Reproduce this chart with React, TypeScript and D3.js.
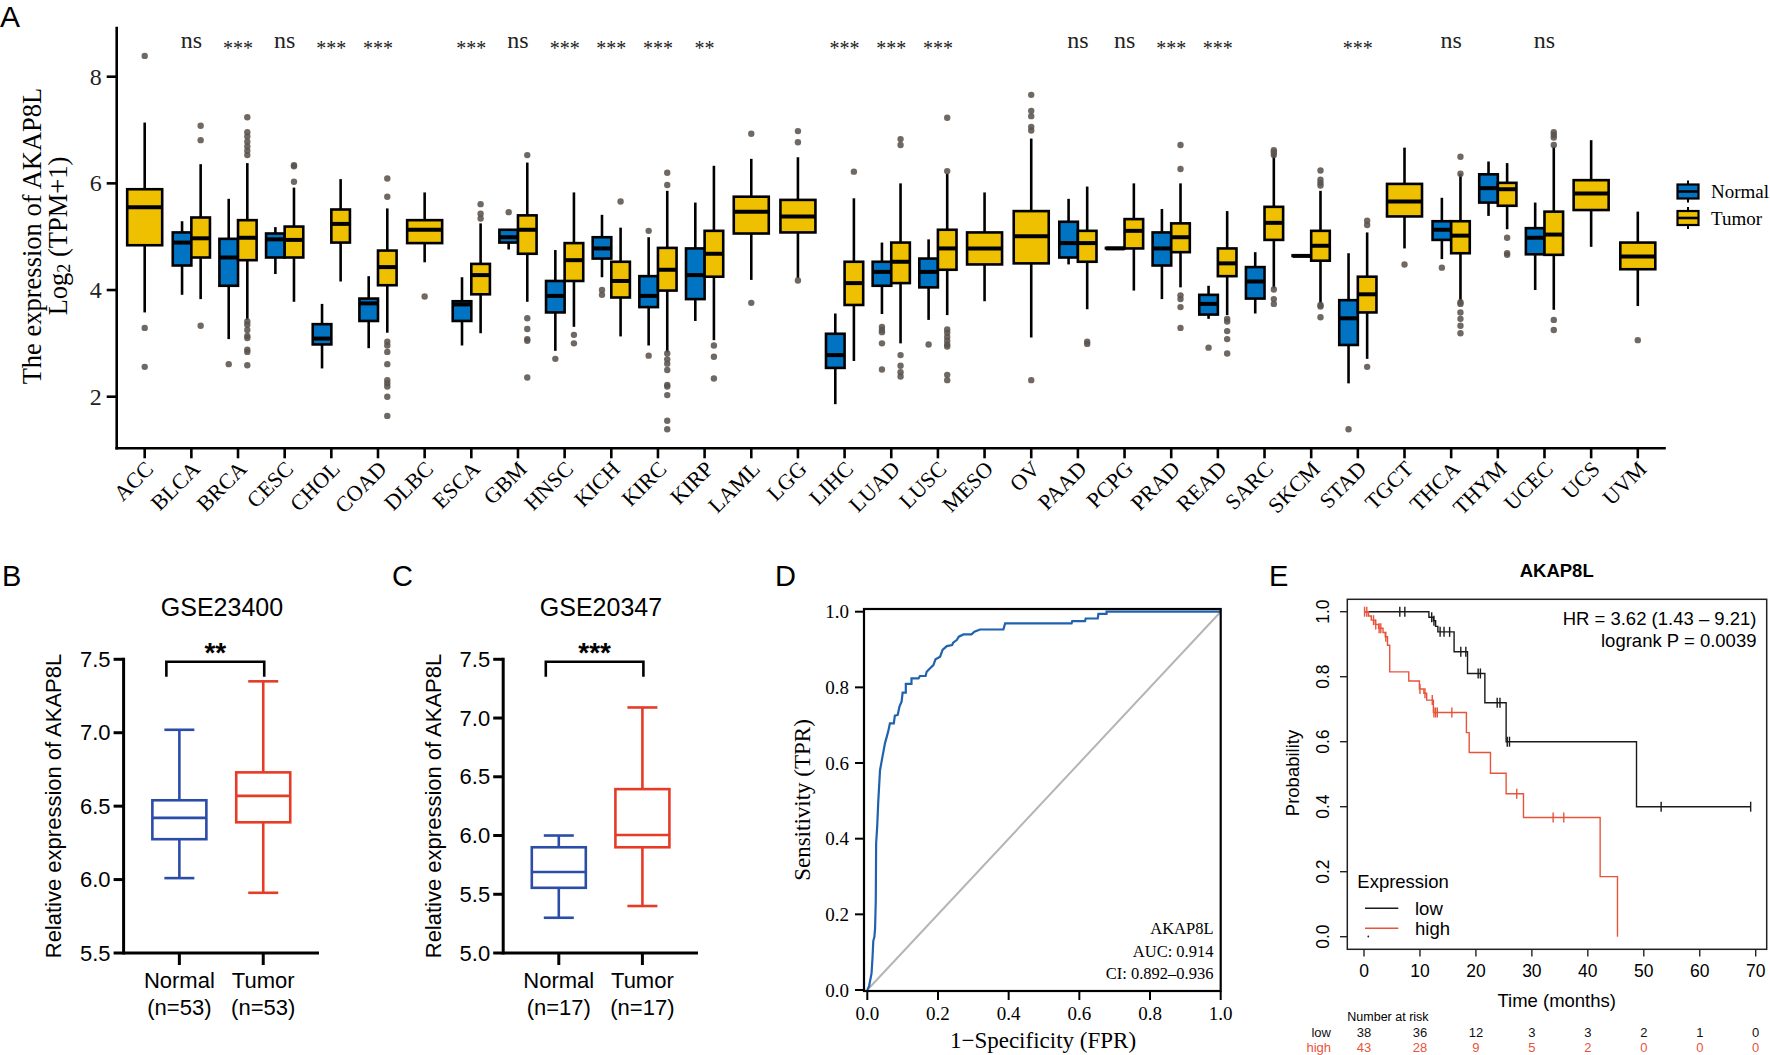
import React from "react";
import * as d3 from "d3";

// ---------------- Panel A data ----------------
const cancerTypes = ["ACC","BLCA","BRCA","CESC","CHOL","COAD","DLBC","ESCA","GBM","HNSC","KICH","KIRC","KIRP","LAML","LGG","LIHC","LUAD","LUSC","MESO","OV","PAAD","PCPG","PRAD","READ","SARC","SKCM","STAD","TGCT","THCA","THYM","UCEC","UCS","UVM"];
const significance = ["","ns","***","ns","***","***","","***","ns","***","***","***","**","","","***","***","***","","","ns","ns","***","***","","","***","","ns","","ns","",""];
// [whiskerLow, q1, median, q3, whiskerHigh]
const normalStats: (number[] | null)[] = [
  null,
  [3.91,4.46,4.89,5.08,5.29],
  [3.08,4.08,4.61,4.96,5.71],
  [4.30,4.61,4.95,5.06,5.18],
  [2.53,2.98,3.09,3.36,3.74],
  [2.91,3.42,3.75,3.84,4.26],
  null,
  [2.96,3.42,3.73,3.79,4.24],
  [4.76,4.89,4.99,5.13,5.13],
  [2.86,3.58,3.89,4.17,4.75],
  [4.24,4.59,4.78,4.99,5.41],
  [2.96,3.68,3.89,4.26,4.99],
  [3.42,3.83,4.28,4.78,5.64],
  null,
  null,
  [1.86,2.54,2.78,3.18,3.56],
  [3.55,4.08,4.34,4.53,4.89],
  [3.44,4.05,4.34,4.59,4.95],
  null,
  null,
  [4.48,4.61,4.88,5.28,5.71],
  [4.78,4.78,4.78,4.79,4.79],
  [3.83,4.46,4.78,5.08,5.52],
  [3.46,3.54,3.74,3.91,4.08],
  [3.56,3.84,4.16,4.43,4.71],
  [4.64,4.64,4.64,4.65,4.65],
  [2.25,2.97,3.47,3.81,4.69],
  null,
  [4.58,4.94,5.13,5.29,5.73],
  [5.39,5.64,5.91,6.17,6.41],
  [4.00,4.67,4.98,5.16,5.64],
  null,
  null,
];
const normalOutliers: number[][] = [
  [],[],[2.61],[],[],[],[],[],[5.46],[2.71],[4.00,3.91],[5.11,2.77],[],[],[],[],
  [3.31,3.25,3.21,3.00,2.51],[2.98],[],[],[],[],[],[2.92],[],[],[1.39],[],[4.42],[],[],[],[],
];
const tumorStats: number[][] = [
  [3.58,4.84,5.55,5.89,7.14],
  [3.83,4.61,4.97,5.36,6.36],
  [3.44,4.56,4.98,5.31,6.38],
  [3.78,4.61,4.94,5.19,5.92],
  [4.16,4.89,5.24,5.51,6.08],
  [3.20,4.09,4.43,4.74,5.53],
  [4.52,4.88,5.13,5.31,5.83],
  [3.19,3.92,4.28,4.49,5.25],
  [3.78,4.68,5.13,5.40,6.39],
  [3.31,4.17,4.56,4.88,5.83],
  [3.13,3.86,4.17,4.53,5.17],
  [2.83,3.99,4.38,4.79,5.86],
  [3.06,4.25,4.68,5.11,6.33],
  [4.19,5.06,5.47,5.75,6.46],
  [4.22,5.08,5.38,5.69,6.49],
  [2.67,3.72,4.13,4.53,5.72],
  [3.00,4.13,4.53,4.89,6.00],
  [3.53,4.38,4.78,5.13,6.18],
  [3.79,4.48,4.78,5.08,5.83],
  [3.11,4.50,5.01,5.48,6.84],
  [3.64,4.53,4.88,5.11,5.94],
  [3.99,4.78,5.11,5.33,6.00],
  [4.05,4.71,4.99,5.25,6.00],
  [3.53,4.26,4.50,4.78,5.48],
  [4.03,4.94,5.26,5.56,6.55],
  [3.74,4.55,4.83,5.11,5.86],
  [2.71,3.58,3.92,4.25,5.08],
  [4.78,5.38,5.66,5.99,6.67],
  [3.79,4.69,5.02,5.29,6.18],
  [5.14,5.58,5.89,6.01,6.38],
  [3.63,4.66,5.04,5.47,6.69],
  [4.81,5.50,5.81,6.06,6.81],
  [3.70,4.39,4.63,4.89,5.47],
];
const tumorOutliers: number[][] = [
  [8.39,3.29,2.56],
  [7.08,6.81,3.33],
  [7.24,6.96,6.88,6.78,6.69,6.61,6.53,3.41,3.35,3.25,3.14,3.10,2.88,2.84,2.59],
  [6.34,6.32,6.03],
  [],
  [6.09,5.75,3.03,2.96,2.84,2.61,2.31,2.25,2.19,2.00,1.64],
  [3.88],
  [5.61,5.43,5.34],
  [6.53,3.47,3.27,3.08,3.05,2.36],
  [3.16,3.00],
  [5.66],
  [6.20,5.97,2.81,2.70,2.62,2.50,2.22,2.19,2.03,1.55,1.39],
  [2.96,2.75,2.34],
  [6.93,3.76],
  [6.98,6.77,4.18],
  [6.22],
  [6.83,6.72,2.78,2.58,2.46,2.38],
  [7.23,6.23,3.26,3.20,3.12,3.05,2.98,2.94,2.41,2.31],
  [],
  [7.66,7.36,7.26,7.06,6.99,2.31],
  [3.03,2.99],
  [],
  [6.72,6.27,3.90,3.83,3.68,3.29],
  [3.46,3.41,3.23,3.08,2.81],
  [6.62,6.58,6.53,4.01,3.83,3.74],
  [6.24,6.07,6.01,5.96,3.72,3.69,3.49],
  [5.30,5.22,2.56],
  [4.48],
  [6.50,6.18,3.77,3.74,3.58,3.46,3.33,3.19],
  [4.98,4.69,4.66],
  [6.96,6.91,6.86,6.72,3.44,3.25],
  [],
  [3.06],
];
const panelATicks = [2, 4, 6, 8];
const groupLabels = ["Normal", "Tumor"];

// ---------------- Panels B, C data ----------------
const gse23400Stats = [[6.01,6.275,6.42,6.54,7.02],[5.91,6.39,6.57,6.73,7.35]];
const gse23400Counts = ["(n=53)","(n=53)"];
const gse23400Ticks = [5.5,6.0,6.5,7.0,7.5];
const gse20347Stats = [[5.30,5.555,5.69,5.90,6.00],[5.40,5.90,6.005,6.395,7.09]];
const gse20347Counts = ["(n=17)","(n=17)"];
const gse20347Ticks = [5.0,5.5,6.0,6.5,7.0,7.5];

// ---------------- Panel D data ----------------
const rocPoints: [number, number][] = [[0,0],[0.005,0.01],[0.012,0.044],[0.015,0.09],[0.017,0.13],[0.02,0.14],[0.022,0.163],[0.023,0.2],[0.024,0.238],[0.025,0.388],[0.028,0.432],[0.031,0.498],[0.036,0.581],[0.043,0.617],[0.05,0.652],[0.059,0.683],[0.064,0.705],[0.075,0.705],[0.078,0.725],[0.086,0.727],[0.091,0.749],[0.097,0.762],[0.1,0.786],[0.109,0.786],[0.109,0.809],[0.125,0.809],[0.125,0.824],[0.145,0.824],[0.149,0.83],[0.165,0.83],[0.168,0.841],[0.177,0.85],[0.187,0.859],[0.193,0.874],[0.206,0.881],[0.213,0.899],[0.225,0.909],[0.24,0.912],[0.243,0.918],[0.253,0.925],[0.259,0.934],[0.272,0.94],[0.295,0.94],[0.303,0.947],[0.319,0.953],[0.385,0.953],[0.39,0.969],[0.578,0.969],[0.58,0.975],[0.616,0.975],[0.618,0.982],[0.652,0.982],[0.654,0.994],[0.677,0.994],[0.677,1.0],[1.0,1.0]];
const rocTicks = [0,0.2,0.4,0.6,0.8,1.0];
const rocLabels = ["AKAP8L","AUC: 0.914","CI: 0.892\u20130.936"];

// ---------------- Panel E data ----------------
const kmLow: [number, number][] = [[0,1],[11.6,0.983],[12.4,0.972],[12.8,0.955],[13.2,0.938],[16.1,0.877],[18.5,0.81],[21.6,0.72],[25.4,0.6],[48.7,0.4],[69.1,0.4]];
const kmLowCensor = [6.4,7.3,12.1,12.5,13.6,14.3,15.3,17.3,18.2,20.4,20.8,23.8,24.3,25.6,26.0,53.1,69.1];
const kmHigh: [number, number][] = [[0,1],[0.8,0.987],[1.3,0.974],[2.0,0.961],[2.6,0.949],[3.4,0.936],[3.8,0.923],[4.2,0.897],[4.6,0.815],[8.0,0.787],[9.9,0.762],[10.7,0.749],[11.2,0.728],[12.4,0.69],[18.3,0.628],[18.8,0.567],[22.6,0.503],[25.4,0.44],[28.5,0.367],[42.2,0.185],[45.3,0.0]];
const kmHighCensor = [0.1,0.5,1.7,2.1,2.7,3.0,3.9,10.0,10.9,12.2,12.5,12.8,13.1,15.7,27.3,33.8,35.7];
const kmXTicks = [0,10,20,30,40,50,60,70];
const kmYTicks = [0,0.2,0.4,0.6,0.8,1.0];
const riskLow = [38,36,12,3,3,2,1,0];
const riskHigh = [43,28,9,5,2,0,0,0];
const kmGroups = ["low","high"];
const kmStatLines = ["HR = 3.62 (1.43 \u2013 9.21)", "logrank P = 0.0039"];

const BLUE_A = "#0073C2";
const YELLOW_A = "#EFC000";
const SERIF = "'Liberation Serif','Times New Roman',serif";
const SANS = "Arial,'Liberation Sans',sans-serif";

function TcgaBox({ x0, x1, s, outs, fill, y }: any) {
  const m = (x0 + x1) / 2;
  return (
    <g>
      <line x1={m} x2={m} y1={y(s[0])} y2={y(s[1])} stroke="#000" strokeWidth={2.6} />
      <line x1={m} x2={m} y1={y(s[3])} y2={y(s[4])} stroke="#000" strokeWidth={2.6} />
      <rect x={x0} y={y(s[3])} width={x1 - x0} height={Math.max(0.5, y(s[1]) - y(s[3]))} fill={fill} stroke="#000" strokeWidth={2.6} />
      <line x1={x0} x2={x1} y1={y(s[2])} y2={y(s[2])} stroke="#000" strokeWidth={4} />
      {outs.map((o: number, i: number) => (
        <circle key={i} cx={m} cy={y(o)} r={3.2} fill="#5b534d" fillOpacity={0.88} />
      ))}
    </g>
  );
}

function PanelA() {
  const left = 116.7, right = 1665.8, top = 26.7, bottom = 448.3;
  const x = d3.scalePoint<string>().domain(cancerTypes).range([left, right]).padding(0.6);
  const y = d3.scaleLinear().domain([2, 8]).range([396.7, 76.7]);
  const half = 18.6, single = 17.5;
  const legendColors = [BLUE_A, YELLOW_A];
  return (
    <g>
      <text x={0} y={27} fontFamily={SANS} fontSize={30}>A</text>
      {cancerTypes.map((c, i) => {
        const cx = x(c)!;
        const ns = normalStats[i];
        return (
          <g key={c}>
            {ns ? (
              <>
                <TcgaBox x0={cx - half} x1={cx} s={ns} outs={normalOutliers[i]} fill={BLUE_A} y={y} />
                <TcgaBox x0={cx} x1={cx + half} s={tumorStats[i]} outs={tumorOutliers[i]} fill={YELLOW_A} y={y} />
              </>
            ) : (
              <TcgaBox x0={cx - single} x1={cx + single} s={tumorStats[i]} outs={tumorOutliers[i]} fill={YELLOW_A} y={y} />
            )}
            {significance[i] && (
              <text x={cx} y={significance[i] === "ns" ? 48 : 55} textAnchor="middle" fontFamily={SERIF}
                fontSize={significance[i] === "ns" ? 24 : 20} fill="#222">{significance[i]}</text>
            )}
            <line x1={cx} x2={cx} y1={bottom} y2={bottom + 10} stroke="#000" strokeWidth={2.6} />
            <text transform={`translate(${cx + 10},${bottom + 22}) rotate(-45)`} textAnchor="end"
              fontFamily={SERIF} fontSize={22}>{c}</text>
          </g>
        );
      })}
      <line x1={left} x2={left} y1={top} y2={bottom + 1.3} stroke="#000" strokeWidth={2.6} />
      <line x1={left - 1.3} x2={right} y1={bottom} y2={bottom} stroke="#000" strokeWidth={2.6} />
      {panelATicks.map((t) => (
        <g key={t}>
          <line x1={left - 10} x2={left} y1={y(t)} y2={y(t)} stroke="#000" strokeWidth={2.6} />
          <text x={left - 15} y={y(t)} dominantBaseline="central" textAnchor="end" fontFamily={SERIF} fontSize={24} fill="#222">{t}</text>
        </g>
      ))}
      <text transform="translate(32,236) rotate(-90)" textAnchor="middle" dominantBaseline="central" fontFamily={SERIF} fontSize={26.5}>The expression of AKAP8L</text>
      <text transform="translate(58,236) rotate(-90)" textAnchor="middle" dominantBaseline="central" fontFamily={SERIF} fontSize={26.5}>
        Log<tspan fontSize={18} dy={6}>2</tspan><tspan dy={-6}> (TPM+1)</tspan>
      </text>
      {groupLabels.map((g, i) => {
        const cy = 191.5 + i * 26.5;
        return (
          <g key={g}>
            <line x1={1688} x2={1688} y1={cy - 11} y2={cy + 11} stroke="#000" strokeWidth={2} />
            <rect x={1677.5} y={cy - 7} width={21} height={14} fill={legendColors[i]} stroke="#000" strokeWidth={2.2} />
            <line x1={1677.5} x2={1698.5} y1={cy} y2={cy} stroke="#000" strokeWidth={2.6} />
            <text x={1711} y={cy} dominantBaseline="central" fontFamily={SERIF} fontSize={19}>{g}</text>
          </g>
        );
      })}
    </g>
  );
}

function GsePanel({ letter, letterX, title, axisX, axisRight, yTicks, stats, counts, stars, titleX }: any) {
  const top = 659.3, bottom = 953;
  const y = d3.scaleLinear().domain([yTicks[0], yTicks[yTicks.length - 1]]).range([bottom, top]);
  const x = d3.scalePoint<string>().domain(groupLabels).range([axisX, axisRight]).padding(0.665);
  const colors = ["#2B4DA8", "#E63B27"];
  const c0 = x(groupLabels[0])!, c1 = x(groupLabels[1])!;
  const bx0 = c0 - 13, bx1 = c1 + 1;
  return (
    <g>
      <text x={letterX} y={586} fontFamily={SANS} fontSize={29}>{letter}</text>
      <text x={titleX} y={615.5} textAnchor="middle" fontFamily={SANS} fontSize={25}>{title}</text>
      <path d={`M${bx0},676.7V661.7H${bx1}V676.7`} fill="none" stroke="#000" strokeWidth={2.6} />
      <text x={(bx0 + bx1) / 2} y={662} textAnchor="middle" fontFamily={SANS} fontWeight="bold" fontSize={28}>{stars}</text>
      {groupLabels.map((g, i) => {
        const cx = x(g)!;
        const s = stats[i];
        const col = colors[i];
        return (
          <g key={g}>
            <line x1={cx} x2={cx} y1={y(s[0])} y2={y(s[1])} stroke={col} strokeWidth={2.6} />
            <line x1={cx} x2={cx} y1={y(s[3])} y2={y(s[4])} stroke={col} strokeWidth={2.6} />
            <line x1={cx - 15} x2={cx + 15} y1={y(s[0])} y2={y(s[0])} stroke={col} strokeWidth={2.6} />
            <line x1={cx - 15} x2={cx + 15} y1={y(s[4])} y2={y(s[4])} stroke={col} strokeWidth={2.6} />
            <rect x={cx - 27} y={y(s[3])} width={54} height={y(s[1]) - y(s[3])} fill="none" stroke={col} strokeWidth={2.6} />
            <line x1={cx - 27} x2={cx + 27} y1={y(s[2])} y2={y(s[2])} stroke={col} strokeWidth={2.6} />
            <line x1={cx} x2={cx} y1={bottom} y2={bottom + 12} stroke="#000" strokeWidth={3} />
            <text x={cx} y={988} textAnchor="middle" fontFamily={SANS} fontSize={22}>{g}</text>
            <text x={cx} y={1015} textAnchor="middle" fontFamily={SANS} fontSize={22}>{counts[i]}</text>
          </g>
        );
      })}
      <line x1={axisX} x2={axisX} y1={top - 1.5} y2={bottom + 1.5} stroke="#000" strokeWidth={3} />
      <line x1={axisX} x2={axisRight} y1={bottom} y2={bottom} stroke="#000" strokeWidth={3} />
      {yTicks.map((t: number) => (
        <g key={t}>
          <line x1={axisX - 10} x2={axisX} y1={y(t)} y2={y(t)} stroke="#000" strokeWidth={3} />
          <text x={axisX - 13} y={y(t)} dominantBaseline="central" textAnchor="end" fontFamily={SANS} fontSize={22}>{t.toFixed(1)}</text>
        </g>
      ))}
      <text transform={`translate(${axisX - 70},806) rotate(-90)`} textAnchor="middle" dominantBaseline="central" fontFamily={SANS} fontSize={22}>Relative expression of AKAP8L</text>
    </g>
  );
}

function PanelD() {
  const x = d3.scaleLinear().domain([0, 1]).range([867.3, 1220.7]);
  const y = d3.scaleLinear().domain([0, 1]).range([990, 611.7]);
  const line = d3.line<[number, number]>().x((d) => x(d[0])).y((d) => y(d[1]));
  return (
    <g>
      <text x={775} y={586} fontFamily={SANS} fontSize={29}>D</text>
      <line x1={x(0)} y1={y(0)} x2={x(1)} y2={y(1)} stroke="#b5b5b5" strokeWidth={2} />
      <path d={line(rocPoints)!} fill="none" stroke="#1F62B0" strokeWidth={2.2} />
      <rect x={864} y={609} width={1220.7 - 864} height={991 - 609} fill="none" stroke="#000" strokeWidth={2.2} />
      {rocTicks.map((t) => (
        <g key={t}>
          <line x1={855} x2={864} y1={y(t)} y2={y(t)} stroke="#000" strokeWidth={2} />
          <text x={849} y={y(t)} dominantBaseline="central" textAnchor="end" fontFamily={SERIF} fontSize={19}>{t.toFixed(1)}</text>
          <line x1={x(t)} x2={x(t)} y1={991} y2={1000} stroke="#000" strokeWidth={2} />
          <text x={x(t)} y={1020} textAnchor="middle" fontFamily={SERIF} fontSize={19}>{t.toFixed(1)}</text>
        </g>
      ))}
      {rocLabels.map((l, i) => (
        <text key={l} x={1213.5} y={934 + i * 22.5} textAnchor="end" fontFamily={SERIF} fontSize={16.5}>{l}</text>
      ))}
      <text transform="translate(802,800) rotate(-90)" textAnchor="middle" dominantBaseline="central" fontFamily={SERIF} fontSize={23}>Sensitivity (TPR)</text>
      <text x={1043} y={1048} textAnchor="middle" fontFamily={SERIF} fontSize={23}>{"1\u2212Specificity (FPR)"}</text>
    </g>
  );
}

function survAt(curve: [number, number][], t: number) {
  let s = curve[0][1];
  for (const [ct, cs] of curve) if (ct <= t) s = cs;
  return s;
}

function PanelE() {
  const x = d3.scaleLinear().domain([0, 70]).range([1364, 1755.7]);
  const y = d3.scaleLinear().domain([0, 1]).range([936.7, 611.7]);
  const line = d3.line<[number, number]>().x((d) => x(d[0])).y((d) => y(d[1])).curve(d3.curveStepAfter);
  const red = "#E8543B";
  const curves = [
    { data: kmLow, censor: kmLowCensor, color: "#1a1a1a" },
    { data: kmHigh, censor: kmHighCensor, color: red },
  ];
  return (
    <g>
      <text x={1269} y={586} fontFamily={SANS} fontSize={29}>E</text>
      <text x={1556.7} y={576.5} textAnchor="middle" fontFamily={SANS} fontWeight="bold" fontSize={18.5}>AKAP8L</text>
      {curves.map((c, i) => (
        <g key={i}>
          <path d={line(c.data)!} fill="none" stroke={c.color} strokeWidth={1.4} />
          {c.censor.map((t, j) => (
            <line key={j} x1={x(t)} x2={x(t)} y1={y(survAt(c.data, t)) - 5} y2={y(survAt(c.data, t)) + 5} stroke={c.color} strokeWidth={1.4} />
          ))}
        </g>
      ))}
      <rect x={1347.3} y={599.3} width={1766.7 - 1347.3} height={949.3 - 599.3} fill="none" stroke="#222" strokeWidth={1.5} />
      {kmXTicks.map((t, i) => (
        <g key={t}>
          <line x1={x(t)} x2={x(t)} y1={949.3} y2={956.5} stroke="#222" strokeWidth={1.4} />
          <text x={x(t)} y={976.5} textAnchor="middle" fontFamily={SANS} fontSize={17.5}>{t}</text>
          <text x={x(t)} y={1036.5} textAnchor="middle" fontFamily={SANS} fontSize={13} fill="#111">{riskLow[i]}</text>
          <text x={x(t)} y={1052} textAnchor="middle" fontFamily={SANS} fontSize={13} fill={red}>{riskHigh[i]}</text>
        </g>
      ))}
      {kmYTicks.map((t) => (
        <g key={t}>
          <line x1={1340} x2={1347.3} y1={y(t)} y2={y(t)} stroke="#222" strokeWidth={1.4} />
          <text transform={`translate(1329,${y(t)}) rotate(-90)`} textAnchor="middle" fontFamily={SANS} fontSize={17.5}>{t.toFixed(1)}</text>
        </g>
      ))}
      <text transform="translate(1299,773) rotate(-90)" textAnchor="middle" fontFamily={SANS} fontSize={18.5}>Probability</text>
      <text x={1556.7} y={1006.5} textAnchor="middle" fontFamily={SANS} fontSize={18.5}>Time (months)</text>
      {kmStatLines.map((l, i) => (
        <text key={l} x={1756.5} y={624.5 + i * 22.5} textAnchor="end" fontFamily={SANS} fontSize={18.5}>{l}</text>
      ))}
      <text x={1357.3} y={888} fontFamily={SANS} fontSize={18.5}>Expression</text>
      {kmGroups.map((g, i) => (
        <g key={g}>
          <line x1={1365} x2={1398.3} y1={908.3 + i * 20} y2={908.3 + i * 20} stroke={curves[i].color} strokeWidth={1.4} />
          <text x={1415} y={914.5 + i * 20} fontFamily={SANS} fontSize={18.5}>{g}</text>
          <text x={1331} y={1036.5 + i * 15.5} textAnchor="end" fontFamily={SANS} fontSize={13} fill={i === 0 ? "#111" : red}>{g}</text>
        </g>
      ))}
      <circle cx={1368.3} cy={936.5} r={0.9} fill="#222" />
      <text x={1347.3} y={1021} fontFamily={SANS} fontSize={12.5}>Number at risk</text>
    </g>
  );
}

export default function App() {
  return (
    <div style={{ position: "absolute", left: 0, top: 0, width: 1770, height: 1055, background: "#fff" }}>
      <svg width={1770} height={1055} viewBox="0 0 1770 1055" style={{ display: "block" }}>
        <rect width={1770} height={1055} fill="#fff" />
        <PanelA />
        <GsePanel letter="B" letterX={2} title="GSE23400" titleX={222} axisX={123.6} axisRight={319}
          yTicks={gse23400Ticks} stats={gse23400Stats} counts={gse23400Counts} stars="**" />
        <GsePanel letter="C" letterX={392} title="GSE20347" titleX={601} axisX={503.2} axisRight={698}
          yTicks={gse20347Ticks} stats={gse20347Stats} counts={gse20347Counts} stars="***" />
        <PanelD />
        <PanelE />
      </svg>
    </div>
  );
}
